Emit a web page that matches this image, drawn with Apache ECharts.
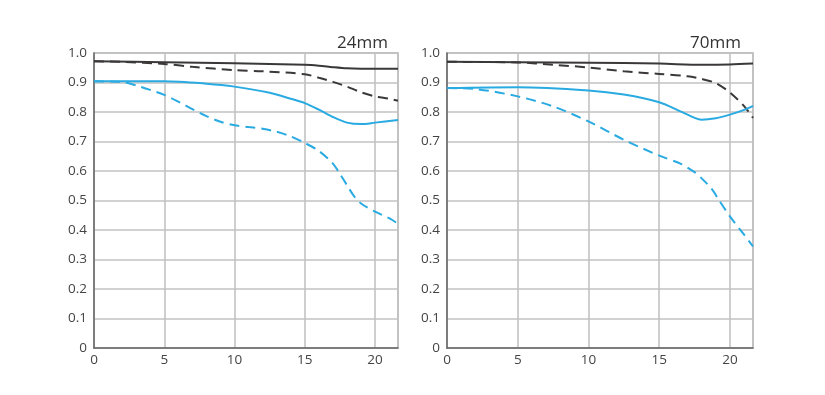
<!DOCTYPE html>
<html><head><meta charset="utf-8">
<script src="https://cdn.jsdelivr.net/npm/echarts@6/dist/echarts.min.js"></script>
<style>html,body{margin:0;padding:0;background:#fff}#c{width:825px;height:395px}</style>
</head><body><div id="c"></div>
<script>
// 24mm panel
const t24 = ["24mm"];
const x24_blackSolid = [0, 5, 10, 15, 16, 17, 18, 19, 20, 21.63];
const v24_blackSolid = [0.972, 0.969, 0.965, 0.96, 0.957, 0.952, 0.948, 0.947, 0.947, 0.947];
const x24_blackDash = [0, 2, 5, 7, 10, 12, 15, 16, 17, 18, 19, 20, 21, 21.63];
const v24_blackDash = [0.972, 0.97, 0.963, 0.953, 0.942, 0.938, 0.928, 0.916, 0.902, 0.886, 0.867, 0.853, 0.845, 0.838];
const x24_blueSolid = [0, 5, 8, 10, 12.5, 14, 15, 16, 17, 18, 19, 20, 21.63];
const v24_blueSolid = [0.904, 0.904, 0.896, 0.886, 0.865, 0.845, 0.83, 0.808, 0.783, 0.764, 0.759, 0.764, 0.773];
const x24_blueDash = [0, 2, 3, 4, 5, 6, 7, 8, 9, 10, 11, 12, 13, 14, 15, 16, 17, 17.5, 18, 18.5, 19, 20, 21, 21.63];
const v24_blueDash = [0.904, 0.902, 0.89, 0.875, 0.858, 0.835, 0.81, 0.786, 0.767, 0.755, 0.749, 0.743, 0.733, 0.717, 0.695, 0.668, 0.625, 0.59, 0.552, 0.515, 0.49, 0.462, 0.44, 0.421];
// 70mm panel
const t70 = ["70mm"];
const x70_blackSolid = [0, 5, 10, 15, 18, 20, 21.63];
const v70_blackSolid = [0.97, 0.969, 0.967, 0.964, 0.96, 0.961, 0.964];
const x70_blackDash = [0, 5, 7.5, 10, 12.5, 15, 17, 18, 19, 20, 21, 21.63];
const v70_blackDash = [0.97, 0.968, 0.96, 0.951, 0.938, 0.929, 0.921, 0.912, 0.898, 0.866, 0.82, 0.78];
const x70_blueSolid = [0, 5, 10, 12.5, 15, 16.5, 17.5, 18, 19, 20, 21, 21.63];
const v70_blueSolid = [0.881, 0.884, 0.873, 0.859, 0.833, 0.802, 0.78, 0.774, 0.779, 0.791, 0.807, 0.821];
const x70_blueDash = [0, 2, 5, 7.5, 10, 12.5, 15, 16.5, 17.5, 18, 18.75, 19.2, 20, 21, 21.63];
const v70_blueDash = [0.881, 0.878, 0.853, 0.819, 0.768, 0.706, 0.652, 0.625, 0.596, 0.575, 0.537, 0.503, 0.446, 0.384, 0.344];

const xTicks = [0, 5, 10, 15, 20];
const yTicks = [0, 0.1, 0.2, 0.3, 0.4, 0.5, 0.6, 0.7, 0.8, 0.9, 1.0];

const pairs = (xs, vs) => xs.map((x, i) => [x, vs[i]]);
const BLACK = '#3b3838', BLUE = '#29abe2';
const FONT = "'Open Sans', 'Liberation Sans', sans-serif";

function ser(idx, xs, vs, color, dashed) {
  return {
    type: 'line', xAxisIndex: idx, yAxisIndex: idx, data: pairs(xs, vs),
    smooth: 0.3, symbol: 'none', silent: true,
    lineStyle: { color: color, width: 2, type: dashed ? [10, 6] : 'solid' },
    z: dashed ? 3 : 4
  };
}

const grids = [
  { left: 94, top: 53, width: 304, height: 295, show: true, borderColor: '#b0b0b0', borderWidth: 1.5 },
  { left: 447, top: 53, width: 306, height: 295, show: true, borderColor: '#b0b0b0', borderWidth: 1.5 }
];
function xAx(i) {
  return {
    gridIndex: i, type: 'value', min: 0, max: 21.63, interval: 5,
    axisLine: { show: true, lineStyle: { color: '#666', width: 1.5 } },
    axisTick: { show: false },
    axisLabel: { color: '#444', fontSize: 13.5, fontFamily: FONT, margin: 5, showMaxLabel: false,
      formatter: v => xTicks.includes(v) ? String(v) : '' },
    splitLine: { show: true, lineStyle: { color: '#c2c2c2', width: 1.6 } }
  };
}
function yAx(i) {
  return {
    gridIndex: i, type: 'value', min: 0, max: 1, interval: 0.1,
    axisLine: { show: true, lineStyle: { color: '#666', width: 1.5 } },
    axisTick: { show: false },
    axisLabel: { color: '#444', fontSize: 13.5, fontFamily: FONT, margin: 7,
      formatter: v => { const t = yTicks.find(y => Math.abs(y - v) < 1e-6); return t === 0 ? '0' : t.toFixed(1); } },
    splitLine: { show: true, lineStyle: { color: '#c2c2c2', width: 1.6 } }
  };
}

const chart = echarts.init(document.getElementById('c'), null, { renderer: 'canvas' });
chart.setOption({
  animation: false,
  backgroundColor: '#fff',
  title: [
    { text: t24[0], right: 825 - 393, top: 30, textStyle: { color: '#333', fontSize: 17, fontWeight: 'normal', fontFamily: FONT } },
    { text: t70[0], right: 825 - 746, top: 30, textStyle: { color: '#333', fontSize: 17, fontWeight: 'normal', fontFamily: FONT } }
  ],
  grid: grids,
  xAxis: [xAx(0), xAx(1)],
  yAxis: [yAx(0), yAx(1)],
  series: [
    ser(0, x24_blackSolid, v24_blackSolid, BLACK, false),
    ser(0, x24_blackDash, v24_blackDash, BLACK, true),
    ser(0, x24_blueSolid, v24_blueSolid, BLUE, false),
    ser(0, x24_blueDash, v24_blueDash, BLUE, true),
    ser(1, x70_blackSolid, v70_blackSolid, BLACK, false),
    ser(1, x70_blackDash, v70_blackDash, BLACK, true),
    ser(1, x70_blueSolid, v70_blueSolid, BLUE, false),
    ser(1, x70_blueDash, v70_blueDash, BLUE, true)
  ]
});
</script></body></html>
